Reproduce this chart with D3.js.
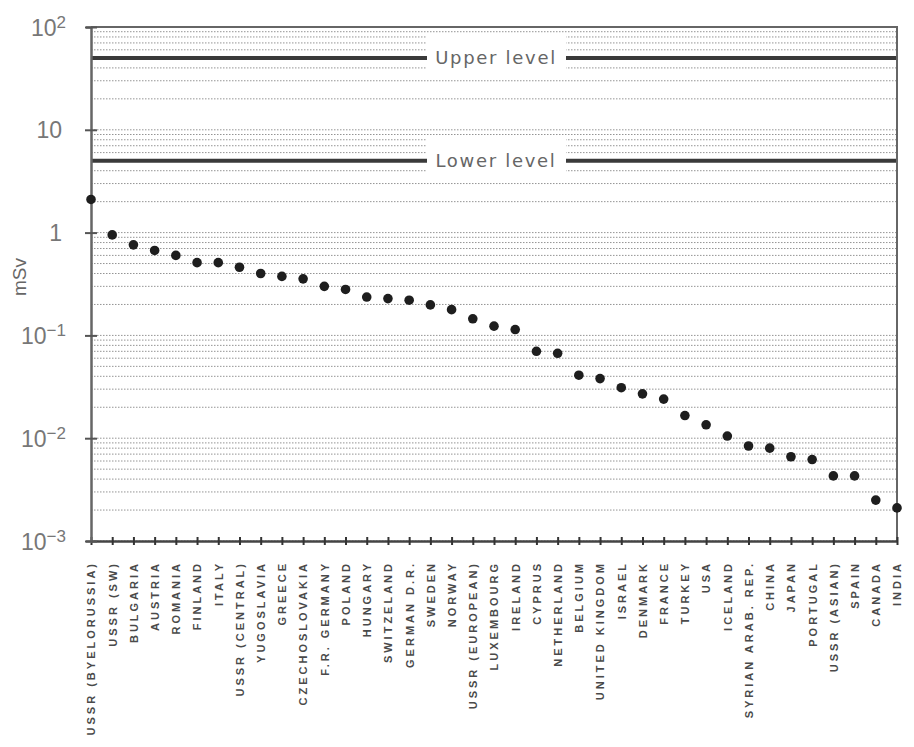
<!DOCTYPE html>
<html>
<head>
<meta charset="utf-8">
<script src="https://cdn.jsdelivr.net/npm/d3@7"></script>
<style>
  html, body { margin: 0; padding: 0; background: #fff; }
  svg { display: block; }
</style>
</head>
<body>
<svg id="chart" width="914" height="747"></svg>
<script>
// Countries, ordered by effective dose (highest first)
const countries = [
  "USSR (BYELORUSSIA)", "USSR (SW)", "BULGARIA", "AUSTRIA", "ROMANIA", "FINLAND",
  "ITALY", "USSR (CENTRAL)", "YUGOSLAVIA", "GREECE", "CZECHOSLOVAKIA", "F.R. GERMANY",
  "POLAND", "HUNGARY", "SWITZELAND", "GERMAN D.R.", "SWEDEN", "NORWAY",
  "USSR (EUROPEAN)", "LUXEMBOURG", "IRELAND", "CYPRUS", "NETHERLAND", "BELGIUM",
  "UNITED KINGDOM", "ISRAEL", "DENMARK", "FRANCE", "TURKEY", "USA", "ICELAND",
  "SYRIAN ARAB. REP.", "CHINA", "JAPAN", "PORTUGAL", "USSR (ASIAN)", "SPAIN",
  "CANADA", "INDIA"
];

// Dose per country, mSv
const doses = [
  2.1, 0.95, 0.76, 0.67, 0.60, 0.51,
  0.51, 0.46, 0.40, 0.375, 0.355, 0.30,
  0.28, 0.236, 0.228, 0.22, 0.198, 0.178,
  0.145, 0.123, 0.114, 0.070, 0.067, 0.041,
  0.038, 0.031, 0.027, 0.024, 0.0166, 0.0135, 0.0105,
  0.0084, 0.0080, 0.0066, 0.0062, 0.0043, 0.0043,
  0.0025, 0.0021
];

// Reference levels
const levelNames = ["Upper level", "Lower level"];
const levelValues = [50, 5];

// Major y ticks: value and the label parts (base + exponent)
const yTickValues = [100, 10, 1, 0.1, 0.01, 0.001];
const yTickBases = ["10", "10", "1", "10", "10", "10"];
const yTickExponents = ["2", "", "", "-1", "-2", "-3"];

const yTitle = "mSv";

const svg = d3.select("#chart");
const plotLeft = 91, plotRight = 897, plotTop = 27, plotBottom = 541;

const x = d3.scalePoint().domain(countries).range([plotLeft, plotRight]).padding(0);
const y = d3.scaleLog().domain([1e-3, 1e2]).range([plotBottom, plotTop]);

// Minor + major grid: 1..9 × each decade
const gridValues = [];
for (let e = -3; e < 2; e++) {
  for (let k = 1; k <= 9; k++) gridValues.push(k * Math.pow(10, e));
}
gridValues.push(100);

svg.append("g").selectAll("line")
  .data(gridValues)
  .join("line")
  .attr("x1", plotLeft).attr("x2", plotRight)
  .attr("y1", d => y(d)).attr("y2", d => y(d))
  .attr("stroke", "#949494")
  .attr("stroke-width", 1)
  .attr("stroke-dasharray", "1.5,1.5");

// Reference level lines with labels
const levels = levelNames.map((name, i) => ({ name, value: levelValues[i] }));
const lv = svg.append("g").selectAll("g").data(levels).join("g");
lv.append("line")
  .attr("x1", plotLeft).attr("x2", plotRight)
  .attr("y1", d => y(d.value)).attr("y2", d => y(d.value))
  .attr("stroke", "#3a3a3a")
  .attr("stroke-width", 4);
lv.append("rect")
  .attr("x", 427).attr("width", 139)
  .attr("y", d => y(d.value) - 24).attr("height", 40)
  .attr("fill", "#fff");
lv.append("text")
  .attr("x", 496)
  .attr("y", d => y(d.value) + 6)
  .attr("text-anchor", "middle")
  .attr("font-family", "DejaVu Sans, sans-serif")
  .attr("font-size", 18)
  .attr("letter-spacing", 1.7)
  .attr("fill", "#666")
  .text(d => d.name);

// Frame: top and right edges
svg.append("path")
  .attr("d", `M${plotLeft},${plotTop}H${plotRight}V${plotBottom}`)
  .attr("fill", "none")
  .attr("stroke", "#666")
  .attr("stroke-width", 2);

// X axis
const xAxis = svg.append("g")
  .attr("transform", `translate(0,${plotBottom})`)
  .call(d3.axisBottom(x).tickSizeInner(4).tickSizeOuter(0).tickPadding(10));
xAxis.select(".domain").attr("stroke", "#444").attr("stroke-width", 2.5);
xAxis.selectAll(".tick line")
  .attr("y1", -4).attr("y2", 4)
  .attr("stroke", "#333").attr("stroke-width", 2);
xAxis.selectAll(".tick text")
  .attr("transform", "rotate(-90)")
  .attr("x", -20).attr("y", 0).attr("dy", "0.35em")
  .attr("text-anchor", "end")
  .attr("font-family", "Liberation Sans, Arial, sans-serif")
  .attr("font-size", 11)
  .attr("font-weight", "bold")
  .attr("letter-spacing", 3)
  .attr("fill", "#4a4a4a");

// Y axis
const yAxis = svg.append("g")
  .attr("transform", `translate(${plotLeft},0)`)
  .call(d3.axisLeft(y).tickValues(yTickValues).tickSizeOuter(0).tickSize(5).tickPadding(24));
yAxis.select(".domain").attr("stroke", "#666").attr("stroke-width", 2.5);
yAxis.selectAll(".tick line")
  .attr("x1", -6).attr("x2", 6)
  .attr("stroke", "#555").attr("stroke-width", 2);
yAxis.selectAll(".tick text")
  .attr("font-family", "Liberation Sans, Arial, sans-serif")
  .attr("font-size", 23)
  .attr("fill", "#777")
  .attr("dy", "0.35em")
  .text(null)
  .each(function (d, i) {
    const t = d3.select(this);
    const exp = yTickExponents[i];
    t.append("tspan").text(yTickBases[i]);
    if (exp) {
      t.append("tspan")
        .attr("dy", "-0.45em")
        .attr("font-size", 17)
        .text(exp.replace("-", "\u2212"));
    }
  });
// Labels with exponents sit a little further right than the plain ones
yAxis.selectAll(".tick text")
  .attr("x", (d, i) => yTickExponents[i] ? -25 : -29);

// Y title
svg.append("text")
  .attr("transform", "translate(26,277) rotate(-90)")
  .attr("text-anchor", "middle")
  .attr("font-family", "Liberation Sans, Arial, sans-serif")
  .attr("font-size", 19)
  .attr("fill", "#666")
  .text(yTitle);

// Dose points
svg.append("g").selectAll("circle")
  .data(countries.map((c, i) => ({ c, v: doses[i] })))
  .join("circle")
  .attr("cx", d => x(d.c))
  .attr("cy", d => y(d.v))
  .attr("r", 4.8)
  .attr("fill", "#1e1e1e");
</script>
</body>
</html>
